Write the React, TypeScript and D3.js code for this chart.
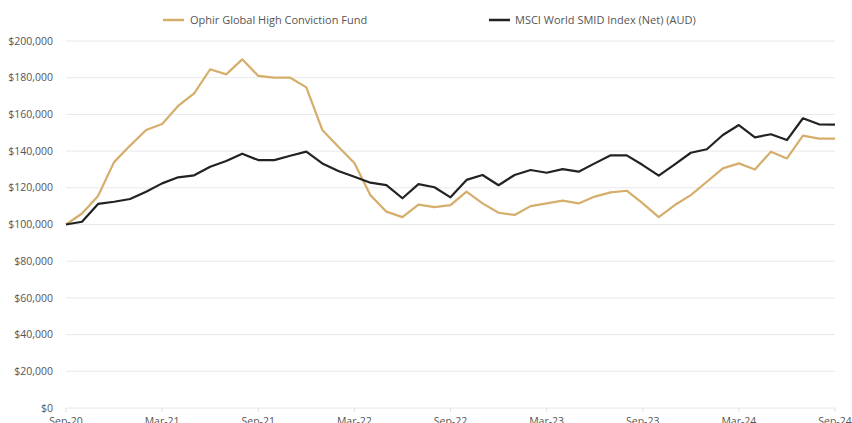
import React from 'react';
import * as d3 from 'd3';

// monthly values, Sep-20 .. Sep-24 (growth of $100k, in $000s)
const fund = [
  100, 106, 115.5, 134, 143, 151.5, 154.8, 164.6, 171.5, 184.6, 181.8, 190, 181,
  180, 180, 174.7, 151.5, 142.4, 133.5, 116, 107, 104, 110.8, 109.5, 110.6,
  117.9, 111.5, 106.4, 105.2, 110, 111.5, 113, 111.5, 115.2, 117.5, 118.4,
  111.5, 104, 110.6, 116, 123.3, 130.6, 133.3, 130, 139.7, 136, 148.4, 146.8, 146.8,
];
const index = [
  100, 101.5, 111.2, 112.4, 113.9, 117.9, 122.4, 125.7, 126.8, 131.5, 134.6, 138.6, 135.1,
  135.1, 137.5, 139.7, 133.3, 129.2, 126, 122.8, 121.5, 114.3, 122, 120.3, 114.8,
  124.3, 127, 121.4, 127, 129.7, 128.2, 130.2, 128.8, 133.3, 137.7, 137.7,
  132.4, 126.6, 132.8, 139.1, 141, 148.8, 154.2, 147.5, 149.2, 146, 157.9, 154.6, 154.4,
];
const xTickLabels = ['Sep-20', 'Mar-21', 'Sep-21', 'Mar-22', 'Sep-22', 'Mar-23', 'Sep-23', 'Mar-24', 'Sep-24'];
const yTicks = [0, 20000, 40000, 60000, 80000, 100000, 120000, 140000, 160000, 180000, 200000];
const seriesNames = ['Ophir Global High Conviction Fund', 'MSCI World SMID Index (Net) (AUD)'];

const W = 852;
const H = 423;
const GOLD = '#d5ae6b';
const BLACK = '#222222';
const FONT = '"Open Sans", sans-serif';

export default function App() {
  const x = d3.scaleLinear().domain([0, fund.length - 1]).range([66, 835]);
  const y = d3.scaleLinear().domain([0, 200000]).range([408, 41]);
  const line = d3.line<number>().x((_, i) => x(i)).y(d => y(d * 1000));
  const fmt = (v: number) => '$' + d3.format(',')(v);

  return (
    <svg width={W} height={H} style={{ position: 'absolute', left: 0, top: 0, background: '#fff' }}
      fontFamily={FONT}>
      {yTicks.map(t => (
        <g key={t}>
          <line x1={66} x2={835} y1={y(t)} y2={y(t)} stroke="#e8e8ec" strokeWidth={1} />
          <text x={53} y={y(t)} dy="0.35em" textAnchor="end" fontSize={10.5} fill="#555">{fmt(t)}</text>
        </g>
      ))}
      {xTickLabels.map((l, k) => (
        <g key={l}>
          <line x1={x(k * 6)} x2={x(k * 6)} y1={408} y2={412} stroke="#e0e0e0" />
          <text x={x(k * 6)} y={425} textAnchor="middle" fontSize={10.5} fill="#555">{l}</text>
        </g>
      ))}
      <path d={line(fund) || ''} fill="none" stroke={GOLD} strokeWidth={2.2} strokeLinejoin="round" />
      <path d={line(index) || ''} fill="none" stroke={BLACK} strokeWidth={2.2} strokeLinejoin="round" />
      <g>
        <line x1={163} x2={184} y1={20} y2={20} stroke={GOLD} strokeWidth={2.5} />
        <text x={190} y={20} dy="0.35em" fontSize={11} fill="#555">{seriesNames[0]}</text>
        <line x1={489} x2={510} y1={20} y2={20} stroke={BLACK} strokeWidth={2.5} />
        <text x={515} y={20} dy="0.35em" fontSize={11} fill="#555">{seriesNames[1]}</text>
      </g>
    </svg>
  );
}
